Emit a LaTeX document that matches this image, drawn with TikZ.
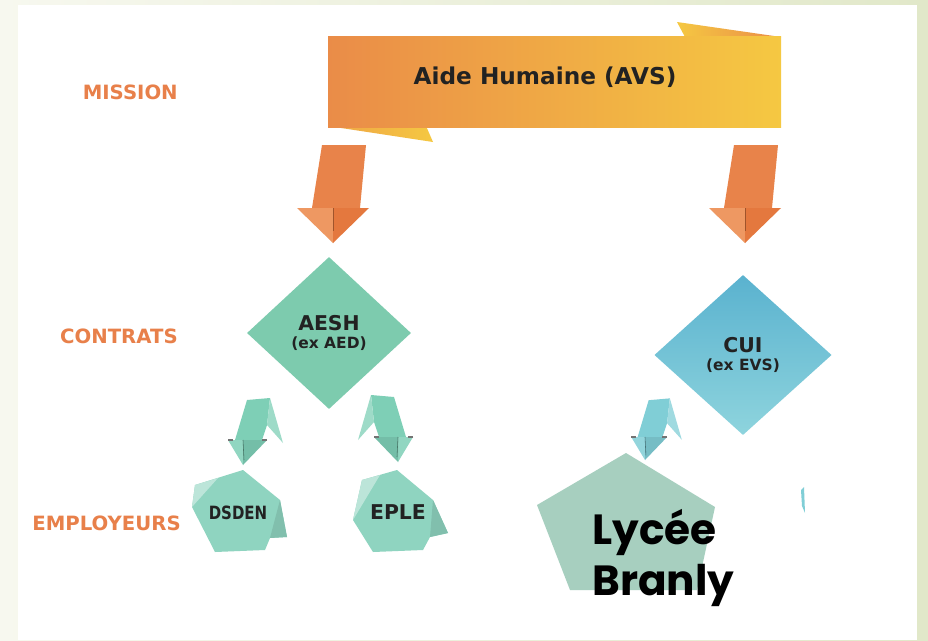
\documentclass[tikz,border=0pt]{standalone}
\usepackage{fontspec}
\setmainfont{DejaVu Sans}
\newfontfamily\lyceefont{Poppins}
\usetikzlibrary{shapes.geometric}
\definecolor{bgleft}{RGB}{247,248,239}
\definecolor{bgright}{RGB}{225,232,201}
\definecolor{lblorange}{RGB}{232,128,74}
\definecolor{bannerL}{RGB}{234,140,72}
\definecolor{bannerR}{RGB}{245,200,66}
\definecolor{orangeshaft}{RGB}{232,131,74}
\definecolor{orangeheadL}{RGB}{238,152,98}
\definecolor{orangeheadR}{RGB}{228,120,62}
\definecolor{aeshgreen}{RGB}{125,203,174}
\definecolor{cuitop}{RGB}{90,178,207}
\definecolor{cuibottom}{RGB}{142,212,221}
\definecolor{greenfold}{RGB}{126,207,182}
\definecolor{bluefold}{RGB}{128,206,214}
\definecolor{employgreen}{RGB}{143,212,192}
\definecolor{lyceegreen}{RGB}{167,207,191}
\definecolor{inkdark}{RGB}{34,34,34}
\tikzset{
    rowlabel/.style={anchor=east, inner sep=0pt, text=lblorange,
        font=\bfseries\fontsize{14}{16}\selectfont},
    contratbox/.style={diamond, inner sep=0pt, align=center, text=inkdark,
        font=\bfseries\fontsize{14.5}{16}\selectfont},
    employtext/.style={inner sep=0pt, text=inkdark,
        font=\bfseries\fontsize{13}{15}\selectfont},
    bigfold/.pic={
        \fill[orangeshaft] (-11,-98) -- (33,-98) -- (27,-35) -- (-21,-35) -- cycle;
        \fill[orangeheadL] (-36,-35) -- (0,-35) -- (0,0) -- cycle;
        \fill[orangeheadR] (0,-35) -- (36,-35) -- (0,0) -- cycle;
        \draw[orangeheadR!70!black, line width=0.5pt] (0,-35) -- (0,-12);
    },
    smallfold/.pic={
        \fill[#1] (4,-65) -- (27,-67) -- (24,-40) -- (19,-25) -- (-8,-25) -- cycle;
        \fill[#1!75!white] (27,-67) -- (40,-22) -- (24,-40) -- cycle;
        \fill[#1!85!white] (-15,-25) -- (0,-25) -- (0,0) -- cycle;
        \fill[#1!92!black] (0,-25) -- (24,-25) -- (0,0) -- cycle;
        \draw[#1!55!black, line width=0.4pt] (0,-25) -- (1,-5);
        \draw[black!55, line width=0.8pt] (-15,-25) -- (-10,-25) (19,-25) -- (24,-25);
    },
}
\begin{document}
\begin{tikzpicture}[x=0.025cm, y=-0.025cm]
\useasboundingbox (0,0) rectangle (928,640);
% fond
\shade[left color=bgleft, right color=bgright] (0,0) rectangle (928,640);
\fill[white] (18,5) rectangle (917,640);

% bandeau
\shade[left color=bannerR, right color=bannerL] (677,22) -- (781,37) -- (685,37) -- cycle;
\shade[left color=bannerL!60!bannerR, right color=bannerR] (328,126) -- (433,142) -- (426,126) -- cycle;
\shade[left color=bannerL, right color=bannerR] (328,36) rectangle (781,127);
\node[inner sep=0pt, text=inkdark, font=\bfseries\fontsize{16.5}{18}\selectfont] (avs) at (545,77) {Aide Humaine (AVS)};

% labels
\node[rowlabel] (mission) at (178,92) {MISSION};
\node[rowlabel] (contrats) at (178,336) {CONTRATS};
\node[rowlabel] (employeurs) at (181,523) {EMPLOYEURS};

% fleches
\pic at (333,243) {bigfold};
\pic at (745,243) {bigfold};

% contrats
\node[contratbox, fill=aeshgreen, minimum width=4.1cm, minimum height=3.8cm] (aesh) at (329,333)
    {AESH\\[-3pt]{\fontsize{11}{12}\selectfont(ex AED)}};
\node[contratbox, top color=cuitop, bottom color=cuibottom, minimum width=4.43cm, minimum height=4cm] (cui) at (743,355)
    {CUI\\[-3pt]{\fontsize{11}{12}\selectfont(ex EVS)}};

\pic at (243,465) {smallfold=greenfold};
\pic[xscale=-1] at (398,462) {smallfold=greenfold};
\pic[scale=0.92] at (645,460) {smallfold=bluefold};
\fill[bluefold] (801,490) -- (804,487) -- (805,513) -- (802,506) -- cycle;

% employeurs
\fill[employgreen] (195,485) -- (243,470) -- (280,500) -- (287,537) -- (270,538) -- (265,550) -- (215,552) -- (192,507) -- cycle;
\fill[employgreen!60!white] (195,485) -- (218,478) -- (192,507) -- cycle;
\fill[employgreen!90!black] (280,500) -- (287,537) -- (270,538) -- cycle;
\node[employtext, xscale=0.82] (dsden) at (238,513) {DSDEN};
\fill[employgreen] (362,480) -- (397,470) -- (433,500) -- (448,533) -- (430,537) -- (423,550) -- (373,552) -- (353,520) -- cycle;
\fill[employgreen!60!white] (362,480) -- (380,475) -- (353,520) -- cycle;
\fill[employgreen!90!black] (433,500) -- (448,533) -- (430,537) -- cycle;
\node[employtext, font=\bfseries\fontsize{14.5}{16}\selectfont] (eple) at (398,512) {EPLE};

\fill[lyceegreen] (626,453) -- (715,507) -- (697,590) -- (570,590) -- (537,505) -- cycle;
\node[anchor=west, align=left, inner sep=0pt, text=black,
    font=\lyceefont\bfseries\fontsize{30}{36}\selectfont] (branly) at (592,558) {Lycée\\Branly};
\end{tikzpicture}
\end{document}
